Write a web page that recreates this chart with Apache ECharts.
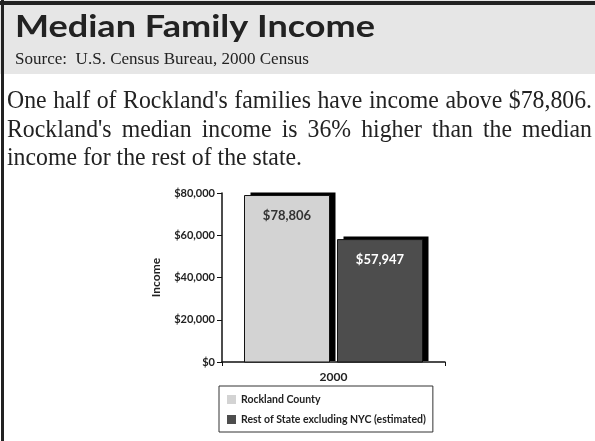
<!DOCTYPE html>
<html>
<head>
<meta charset="utf-8">
<script src="https://cdn.jsdelivr.net/npm/echarts@6/dist/echarts.min.js"></script>
<style>
  html, body { margin: 0; padding: 0; background: #fff; }
  #main { width: 595px; height: 441px; }
</style>
</head>
<body>
<div id="main"></div>
<script>
// data
var years = ["2000"];
var rockland = [78806];
var restOfState = [57947];
var seriesNames = ["Rockland County", "Rest of State excluding NYC (estimated)"];
var seriesColors = ["#d3d3d3", "#4d4d4d"];
var labelColors = ["#333", "#fff"];
var yTicks = [0, 20000, 40000, 60000, 80000];

var titleText = "Median Family Income";
var sourceText = "Source:  U.S. Census Bureau, 2000 Census";
var paraLines = [
  "One half of Rockland's families have income above $78,806.",
  "Rockland's median income is 36% higher than the median",
  "income for the rest of the state."
];

var ctx = document.createElement("canvas").getContext("2d");
function measure(txt, font) {
  ctx.font = font;
  return ctx.measureText(txt).width;
}

// squeeze a single text to a target width
function fitText(txt, font, left, midY, width, color) {
  var w = measure(txt, font);
  return {
    type: "text", x: left, y: midY, scaleX: width / w, silent: true,
    style: { text: txt, font: font, fill: color, x: 0, y: 0, textAlign: "left", textVerticalAlign: "middle" }
  };
}

var paraFont = "26px 'Liberation Serif'";
var paraLeft = 7, paraRight = 592;
var lineY = [101, 130, 158];
// last line is set with normal spacing, its width gives the squeeze
var squeeze = 295 / measure(paraLines[2], paraFont);

var graphics = [
  { type: "rect", shape: { x: 0, y: 0, width: 595, height: 74 }, style: { fill: "#e6e6e6" }, silent: true },
  { type: "rect", shape: { x: 0, y: 1, width: 595, height: 4 }, style: { fill: "#222" }, silent: true },
  { type: "rect", shape: { x: 1, y: 0, width: 3, height: 441 }, style: { fill: "#222" }, silent: true },
  fitText(titleText, "bold 31px Lato", 15, 27, 360, "#222"),
  fitText(sourceText, "17px 'Liberation Serif'", 15, 60, 294, "#222"),
  fitText(paraLines[2], paraFont, paraLeft, lineY[2], 295, "#222")
];

// justified lines
[0, 1].forEach(function (i) {
  var words = paraLines[i].split(" ");
  var widths = words.map(function (w) { return measure(w, paraFont) * squeeze; });
  var total = widths.reduce(function (a, b) { return a + b; }, 0);
  var gap = (paraRight - paraLeft - total) / (words.length - 1);
  var x = paraLeft;
  words.forEach(function (w, j) {
    graphics.push({
      type: "text", x: x, y: lineY[i], scaleX: squeeze, silent: true,
      style: { text: w, font: paraFont, fill: "#222", x: 0, y: 0, textAlign: "left", textVerticalAlign: "middle" }
    });
    x += widths[j] + gap;
  });
});

var chartFont = "Lato";
var barW = 85, barGap = 8;

// bar with a hard black drop shadow up and to the right
function renderBar(params, api) {
  var i = params.seriesIndex;
  var base = api.coord([api.value(0), 0]);
  var top = api.coord([api.value(0), api.value(1)]);
  var left = base[0] - (2 * barW + barGap) / 2 + i * (barW + barGap);
  var val = api.value(1);
  return {
    type: "group",
    children: [
      {
        type: "rect",
        shape: { x: left + 6, y: top[1] - 3, width: barW, height: base[1] - top[1] + 2 },
        style: { fill: "#000" }
      },
      {
        type: "rect",
        shape: { x: left, y: top[1], width: barW, height: base[1] - top[1] },
        style: { fill: seriesColors[i], stroke: "#111", lineWidth: 1 }
      },
      {
        type: "text",
        x: left + barW / 2,
        y: top[1] + 20,
        style: {
          text: "$" + val.toLocaleString("en-US"),
          font: "bold 13px " + chartFont,
          fill: labelColors[i],
          textAlign: "center",
          textVerticalAlign: "middle"
        }
      }
    ]
  };
}

var myChart = echarts.init(document.getElementById("main"), null, { renderer: "canvas" });
var option = {
  animation: false,
  backgroundColor: "#fff",
  graphic: graphics,
  grid: { left: 222, right: 150, top: 193, bottom: 79 },
  legend: {
    data: seriesNames,
    orient: "vertical",
    left: 219,
    top: 386,
    padding: [8, 7, 7, 8],
    itemGap: 9,
    itemWidth: 9,
    itemHeight: 9,
    icon: "rect",
    selectedMode: false,
    borderColor: "#333",
    borderWidth: 1,
    itemStyle: { borderWidth: 0 },
    textStyle: { fontFamily: chartFont, fontWeight: "bold", fontSize: 10.5, color: "#222" }
  },
  xAxis: {
    type: "category",
    data: years,
    axisLine: { lineStyle: { color: "#111", width: 1.5 } },
    axisTick: { show: true, length: 4, lineStyle: { color: "#111" } },
    axisLabel: { fontFamily: chartFont, fontWeight: "bold", fontSize: 12, color: "#222", margin: 9 }
  },
  yAxis: {
    type: "value",
    min: yTicks[0],
    max: yTicks[yTicks.length - 1],
    interval: yTicks[1] - yTicks[0],
    name: "Income",
    nameLocation: "middle",
    nameGap: 60,
    nameRotate: 90,
    nameTextStyle: { fontFamily: chartFont, fontWeight: "bold", fontSize: 12, color: "#222" },
    axisLine: { show: true, lineStyle: { color: "#111", width: 1.5 } },
    axisTick: { show: true, length: 5, lineStyle: { color: "#111" } },
    splitLine: { show: false },
    axisLabel: {
      fontFamily: chartFont, fontWeight: "bold", fontSize: 11, color: "#222", margin: 7,
      formatter: function (v) { return "$" + v.toLocaleString("en-US"); }
    }
  },
  series: [
    {
      name: seriesNames[0],
      type: "custom",
      renderItem: renderBar,
      itemStyle: { color: seriesColors[0] },
      data: rockland.map(function (v, k) { return [k, v]; })
    },
    {
      name: seriesNames[1],
      type: "custom",
      renderItem: renderBar,
      itemStyle: { color: seriesColors[1] },
      data: restOfState.map(function (v, k) { return [k, v]; })
    }
  ]
};
if (option && typeof option === "object") {
  myChart.setOption(option);
}
window.addEventListener("resize", myChart.resize);
</script>
</body>
</html>
